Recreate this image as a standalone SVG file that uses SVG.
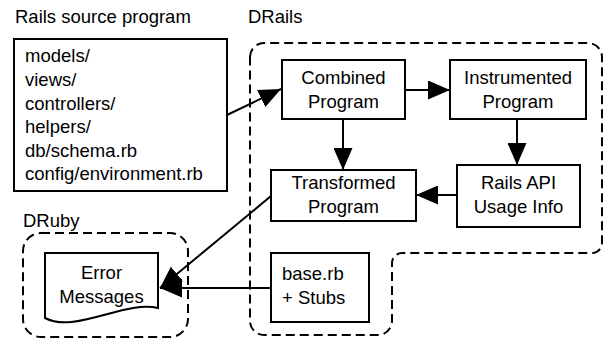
<svg xmlns="http://www.w3.org/2000/svg" width="604" height="340" viewBox="0 0 604 340">
<style>
text{font-family:"Liberation Sans",Arial,Helvetica,sans-serif;font-size:18.5px;fill:#000}
.c{text-anchor:middle}
.box{fill:#fff;stroke:#000;stroke-width:2}
.grp{fill:none;stroke:#000;stroke-width:2;stroke-dasharray:9 5}
.edge{fill:none;stroke:#000;stroke-width:2;marker-end:url(#ah)}
</style>
<defs>
<marker id="ah" markerUnits="userSpaceOnUse" markerWidth="22" markerHeight="19" refX="22" refY="9.5" orient="auto">
<path d="M0,0 L22,9.5 L0,19 Z" fill="#000"/>
</marker>
</defs>
<rect width="604" height="340" fill="#fff"/>
<g id="drails-group">
<path class="grp" d="M250,57 A14,14 0 0 1 264,43 H588 A14,14 0 0 1 602,57 V243 A10,10 0 0 1 592,253 H402 A10,10 0 0 0 392,263 V321 A14,14 0 0 1 378,335 H264 A14,14 0 0 1 250,321 Z"/>
<text x="248" y="23">DRails</text>
</g>
<g id="druby-group">
<rect class="grp" x="23" y="233" width="165" height="104" rx="18"/>
<text x="23" y="227">DRuby</text>
</g>
<g id="source">
<text x="15" y="23">Rails source program</text>
<rect class="box" x="14" y="39" width="213" height="152"/>
<text x="25" y="62">models/</text>
<text x="25" y="86">views/</text>
<text x="25" y="110">controllers/</text>
<text x="25" y="133">helpers/</text>
<text x="25" y="157">db/schema.rb</text>
<text x="25" y="180">config/environment.rb</text>
</g>
<g id="combined">
<rect class="box" x="282" y="60" width="123" height="59"/>
<text class="c" x="343.5" y="84">Combined</text>
<text class="c" x="343.5" y="108">Program</text>
</g>
<g id="instrumented">
<rect class="box" x="450" y="60" width="136" height="59"/>
<text class="c" x="518" y="84">Instrumented</text>
<text class="c" x="518" y="108">Program</text>
</g>
<g id="transformed">
<rect class="box" x="271" y="170" width="145" height="51"/>
<text class="c" x="343.5" y="189">Transformed</text>
<text class="c" x="343.5" y="213">Program</text>
</g>
<g id="railsapi">
<rect class="box" x="457" y="165" width="123" height="62"/>
<text class="c" x="518.5" y="189">Rails API</text>
<text class="c" x="518.5" y="213">Usage Info</text>
</g>
<g id="base">
<rect class="box" x="271" y="253" width="98" height="69"/>
<text x="282" y="280">base.rb</text>
<text x="282" y="304">+ Stubs</text>
</g>
<g id="errors">
<path class="box" d="M45,253 H158 V308 C125,300 75,334 45,318 Z"/>
<text class="c" x="101.5" y="279">Error</text>
<text class="c" x="101.5" y="303">Messages</text>
</g>
<g id="connectors">
<line class="edge" x1="227" y1="115" x2="281" y2="89"/>
<line class="edge" x1="405" y1="90" x2="450" y2="90"/>
<line class="edge" x1="343" y1="119" x2="343" y2="170"/>
<line class="edge" x1="517" y1="119" x2="517" y2="165"/>
<line class="edge" x1="457" y1="195" x2="416" y2="195"/>
<line class="edge" x1="271" y1="196" x2="160" y2="288"/>
<line class="edge" x1="271" y1="288" x2="160" y2="288"/>
</g>
</svg>
